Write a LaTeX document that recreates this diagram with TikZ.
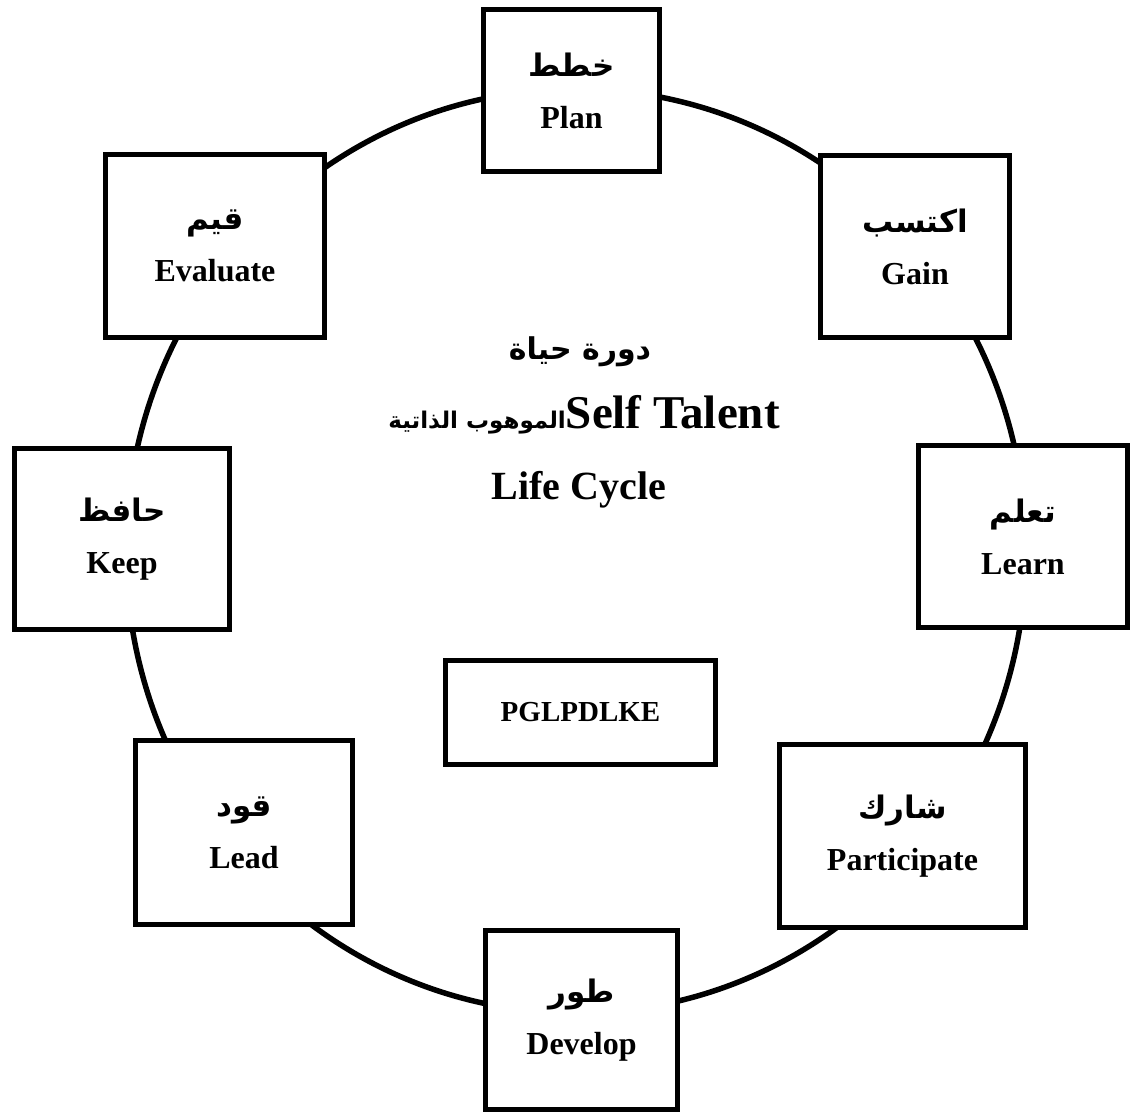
\documentclass[tikz,border=0pt]{standalone}
\usepackage{fontspec}
\setmainfont{Liberation Serif}
\newfontfamily\arabicfont[Script=Arabic]{DejaVu Sans}
\TeXXeTstate=1
\newcommand{\arbsize}{\arabicfont\bfseries\fontsize{31}{36}\selectfont}
\begin{document}
\begin{tikzpicture}[x=1pt,y=-1pt,
  ring/.style={line width=5.5pt},
  stagebox/.style={draw, line width=5pt, fill=white, inner sep=0pt, align=center,
    font=\bfseries\fontsize{32}{52}\selectfont},
  titletext/.style={inner sep=0pt, font=\bfseries\fontsize{40}{48}\selectfont}]
\useasboundingbox (0,0) rectangle (1136,1117);
\coordinate (ctr) at (576,551);
\draw[ring] (ctr) ellipse [x radius=450pt, y radius=462pt];

\node[stagebox, minimum width=176pt, minimum height=162pt] (plan) at (571.5,90.5) {{\arbsize\beginR خطط\endR}\\Plan};
\node[stagebox, minimum width=189pt, minimum height=182pt] (gain) at (915,246.5) {{\arbsize\beginR اكتسب\endR}\\Gain};
\node[stagebox, minimum width=209pt, minimum height=182pt] (learn) at (1023,536.5) {{\arbsize\beginR تعلم\endR}\\Learn};
\node[stagebox, minimum width=246pt, minimum height=183pt] (part) at (902.5,836) {{\arbsize\beginR شارك\endR}\\Participate};
\node[stagebox, minimum width=192pt, minimum height=179pt] (dev) at (581.5,1020) {{\arbsize\beginR طور\endR}\\Develop};
\node[stagebox, minimum width=217pt, minimum height=184pt] (lead) at (244,832.5) {{\arbsize\beginR قود\endR}\\Lead};
\node[stagebox, minimum width=215pt, minimum height=181pt] (keep) at (122,539) {{\arbsize\beginR حافظ\endR}\\Keep};
\node[stagebox, minimum width=219pt, minimum height=183pt] (eval) at (215,246) {{\arbsize\beginR قيم\endR}\\Evaluate};

\node[stagebox, minimum width=270pt, minimum height=104pt, font=\bfseries\fontsize{29}{36}\selectfont] (code) at (580.5,712.5) {PGLPDLKE};

\node[titletext] (t1) at (580,352) {\arabicfont\bfseries\fontsize{30}{36}\selectfont\beginR دورة حياة\endR};
\node[titletext] (t2) at (584,415) {{\arabicfont\bfseries\fontsize{23}{36}\selectfont\beginR الموهوب الذاتية\endR}{\fontsize{47}{48}\selectfont Self Talent}};
\node[titletext] (t3) at (579,490) {Life Cycle};
\end{tikzpicture}
\end{document}
